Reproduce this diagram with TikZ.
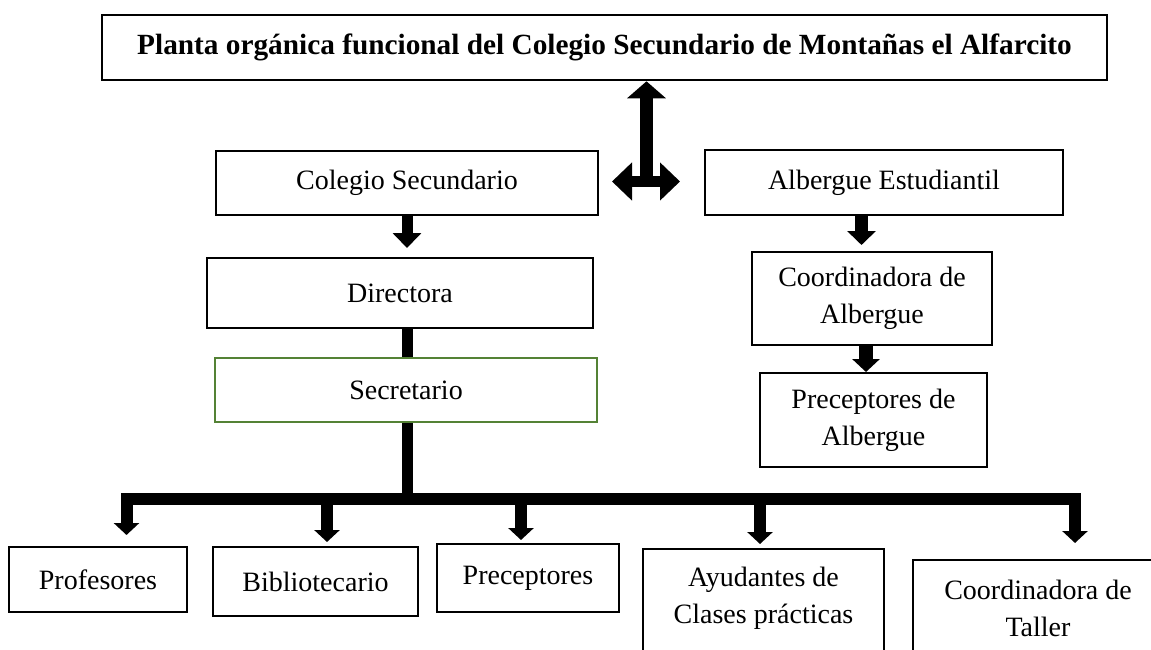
\documentclass[tikz,border=0pt]{standalone}
\usepackage{fontspec}
\setmainfont{Liberation Serif}
\usetikzlibrary{arrows.meta}
\definecolor{secgreen}{RGB}{84,130,53}
\begin{document}
\begin{tikzpicture}[x=1pt,y=-1pt,
  box/.style={draw=black, line width=2pt, inner sep=0pt, align=center,
    font=\fontsize{28}{37}\selectfont},
  titlebox/.style={box, line width=2.6pt, font=\fontsize{29.3}{34}\selectfont\bfseries},
  fat/.style={line width=12pt, -{Triangle[width=25pt,length=12pt]}},
  fatmid/.style={line width=13pt, -{Triangle[width=28pt,length=14pt]}},
  bar/.style={line width=11.5pt}
]
\useasboundingbox (0,0) rectangle (1151,650);

% boxes
\node[titlebox, minimum width=1005pt, minimum height=65pt] (title) at (604.5,47.5)
  {Planta orgánica funcional del Colegio Secundario de Montañas el Alfarcito};
\node[box, minimum width=382pt, minimum height=64pt] (colegio) at (407,183) {Colegio Secundario};
\node[box, minimum width=358pt, minimum height=65pt] (albergue) at (884,182.5) {Albergue Estudiantil};
\node[box, minimum width=386pt, minimum height=70pt] (directora) at (400,293) {Directora};
\node[box, draw=secgreen, minimum width=382pt, minimum height=64pt] (secretario) at (406,390) {Secretario};
\node[box, minimum width=240pt, minimum height=93pt] (coord) at (872,298.5) {Coordinadora de\\Albergue};
\node[box, minimum width=227pt, minimum height=94pt] (precalb) at (873.5,420) {Preceptores de\\Albergue};
\node[box, minimum width=178pt, minimum height=65pt] (prof) at (98,579.5) {Profesores};
\node[box, minimum width=205pt, minimum height=69pt] (bib) at (315.5,581.5) {Bibliotecario};
\node[box, minimum width=182pt, minimum height=68pt] (prec) at (528,578) {Preceptores};
\node[box, anchor=north, minimum width=241pt, inner ysep=18pt] (ayud) at (763.5,548)
  {Ayudantes de\\Clases prácticas\\\rule{0pt}{60pt}};
\node[box, anchor=north, minimum width=250pt, inner ysep=20pt] (taller) at (1038,559)
  {Coordinadora de\\Taller\\\rule{0pt}{60pt}};

% coordinates
\coordinate (hc) at (646.5,181.5);
\coordinate (ax) at (861.5,0);
\coordinate (bx) at (866,0);
\coordinate (bar) at (407,499);
\coordinate (d1) at (126.5,499);
\coordinate (d2) at (327,499);
\coordinate (d3) at (521,499);
\coordinate (d4) at (760,499);
\coordinate (d5) at (1075,499);

% double arrow
\draw[line width=11pt, {Triangle[width=37pt,length=20pt]}-{Triangle[width=37pt,length=20pt]},
  shorten <=13pt, shorten >=24pt] (colegio.east |- hc) -- (albergue.west |- hc);
\draw[line width=13pt, -{Triangle[width=38pt,length=17pt]}] (hc) -- (hc |- title.south);

% left branch
\draw[line width=11pt, -{Triangle[width=28pt,length=15pt]}, shorten >=9pt]
  (colegio.south) -- (colegio.south |- directora.north);
\draw[line width=11pt] (directora.south -| colegio.south) -- (secretario.north -| colegio.south);
\draw[line width=11pt] (secretario.south -| colegio.south) -- (bar);
\draw[bar, line cap=rect] (d1) -- (d5);
\draw[fat, shorten >=11pt] (d1) -- (d1 |- prof.north);
\draw[fat, shorten >=4pt] (d2) -- (d2 |- bib.north);
\draw[fat, shorten >=3pt] (d3) -- (d3 |- prec.north);
\draw[fat, shorten >=4pt] (d4) -- (d4 |- ayud.north);
\draw[fat, shorten >=16pt] (d5) -- (d5 |- taller.north);

% right branch
\draw[fatmid, shorten >=6pt] (albergue.south -| ax) -- (coord.north -| ax);
\draw[line width=14pt, -{Triangle[width=27pt,length=13pt]}] (coord.south -| bx) -- (precalb.north -| bx);
\end{tikzpicture}
\end{document}
